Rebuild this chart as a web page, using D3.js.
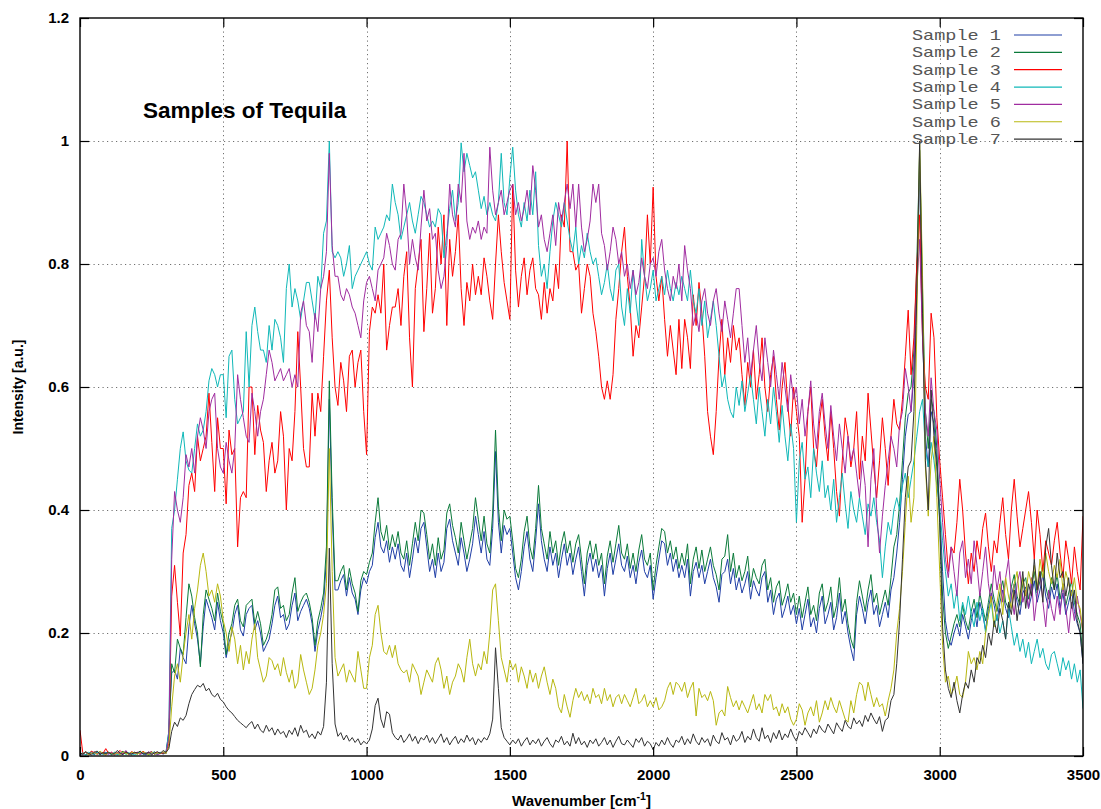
<!DOCTYPE html>
<html><head><meta charset="utf-8">
<script src="https://cdn.jsdelivr.net/npm/d3@7"></script>
<style>body{margin:0;background:#fff}</style>
</head><body><svg id="c" width="1101" height="809"></svg>
<script>
// wavenumber grid (cm^-1), one value every 10 cm^-1
const wavenumbers = d3.range(0, 3501, 10);
const xTickValues = [0, 500, 1000, 1500, 2000, 2500, 3000, 3500];
const xTickLabels = ["0", "500", "1000", "1500", "2000", "2500", "3000", "3500"];
const yTickValues = [0, 0.2, 0.4, 0.6, 0.8, 1.0, 1.2];
const yTickLabels = ["0", "0.2", "0.4", "0.6", "0.8", "1", "1.2"];
const seriesNames = ["Sample 1", "Sample 2", "Sample 3", "Sample 4", "Sample 5", "Sample 6", "Sample 7"];
const seriesColors = ["#1f3ea6", "#0a7a3a", "#ff0000", "#10b8b8", "#a02ca0", "#b8b810", "#333333"];

// intensities in thousandths (a.u. x 1000)
const sample1 = [
4,2,6,3,5,2,7,3,4,6,
3,5,2,6,4,3,7,2,5,4,
6,3,4,2,5,7,3,4,6,3,
6,40,135,140,125,175,160,150,210,245,
215,190,150,210,255,240,225,205,250,220,
200,160,185,200,230,245,205,195,230,240,
245,205,220,200,170,180,190,215,245,260,
225,230,205,215,245,265,220,235,245,255,
240,215,170,205,225,250,320,580,400,270,
270,285,295,260,290,265,255,230,270,290,
280,300,310,355,380,340,330,350,315,340,
320,345,310,300,330,290,320,355,330,370,
380,340,300,320,290,330,300,315,370,385,
350,330,310,355,330,300,320,345,390,360,
330,365,320,310,370,495,380,330,375,360,
370,330,290,270,300,340,365,320,300,350,
410,350,320,300,340,310,330,290,320,345,
310,330,295,320,340,300,260,310,330,300,
320,290,310,260,305,330,295,320,345,310,
300,325,290,310,280,315,335,300,290,310,
255,290,320,350,345,310,330,300,320,290,
310,290,320,260,300,315,290,310,280,300,
320,290,275,250,295,300,320,280,305,270,
290,265,280,300,255,285,270,260,290,300,
250,270,230,255,265,225,240,260,230,245,
215,240,205,230,255,210,225,200,240,260,
215,230,250,205,225,265,215,235,200,175,
155,230,260,240,215,250,270,230,245,210,
230,250,225,270,290,330,380,450,520,555,
560,620,760,950,700,520,470,560,540,480,
400,300,220,190,180,200,215,195,230,210,
190,220,240,210,250,230,205,240,265,245,
220,250,270,240,225,260,280,250,230,265,
275,240,260,285,250,270,295,260,240,275,
255,280,240,265,230,250,270,235,215,200,
150];
const sample2 = [
3,5,2,4,7,3,5,2,6,4,
5,2,6,3,4,8,3,5,2,6,
3,6,4,5,2,4,7,3,5,4,
4,35,150,135,190,175,165,225,280,260,
225,200,145,230,270,255,240,220,265,235,
215,165,200,215,245,255,220,210,245,250,
255,215,235,215,180,190,205,230,270,275,
240,245,220,230,265,290,235,250,260,265,
250,225,180,220,240,265,340,610,420,285,
285,300,310,270,305,280,265,235,285,300,
295,315,330,380,420,365,350,375,335,360,
340,365,330,320,350,310,345,380,350,400,
395,360,320,345,310,355,320,335,395,410,
375,355,330,380,350,320,345,370,420,385,
350,390,345,330,395,530,405,350,400,385,
390,350,305,290,320,365,390,340,320,370,
440,370,345,320,365,330,350,310,345,365,
330,350,315,345,360,320,280,330,350,320,
345,310,330,280,325,350,315,345,375,330,
320,345,305,330,300,335,360,320,310,330,
270,310,340,370,365,330,350,320,340,305,
330,310,345,280,320,340,305,335,300,320,
340,310,295,270,320,325,360,300,330,290,
310,285,300,325,275,305,290,280,310,320,
270,290,250,275,285,245,260,280,250,265,
230,260,225,250,275,230,245,220,265,280,
235,250,275,225,245,290,235,255,215,190,
175,250,285,260,235,270,295,250,265,230,
250,270,245,290,340,360,410,480,550,590,
600,660,800,985,760,560,500,580,560,500,
380,260,200,175,195,215,230,210,245,220,
205,235,255,225,265,240,220,250,280,255,
235,265,285,250,240,275,295,260,245,280,
290,255,275,300,265,285,310,275,255,290,
270,295,255,280,245,265,285,250,230,215,
160];
const sample3 = [
42,4,6,3,8,5,3,7,4,12,
4,6,3,5,9,4,6,3,7,5,
6,3,8,4,5,7,3,6,4,5,
5,20,260,310,250,195,330,360,440,460,
430,520,480,500,520,590,510,430,550,500,
500,410,530,490,500,340,420,430,420,600,
600,490,570,530,510,430,480,510,460,480,
560,520,400,500,480,560,690,600,500,470,
470,590,520,590,560,650,740,790,680,600,
570,640,610,560,650,660,600,640,660,560,
490,690,730,720,750,720,800,660,700,730,
730,760,700,780,820,680,600,760,800,840,
690,760,850,720,760,860,800,880,700,840,
780,820,880,760,700,770,740,800,750,780,
750,810,780,740,710,800,880,820,770,740,
710,930,790,730,780,810,750,790,810,760,
750,710,770,720,760,740,800,760,880,860,
1000,820,820,790,800,720,760,800,780,720,
690,650,600,580,610,580,620,710,760,820,
860,780,730,650,700,680,730,780,880,800,
925,780,740,780,710,650,700,660,620,710,
630,710,680,630,750,700,770,720,650,560,
520,490,560,650,710,620,680,640,700,660,
680,620,570,640,600,660,580,620,680,600,
560,620,650,580,530,600,640,570,520,600,
560,520,380,450,560,600,500,470,540,580,
520,480,560,500,430,390,480,550,520,470,
500,560,450,520,480,590,530,470,420,480,
550,500,440,520,580,540,530,580,650,725,
620,680,800,880,680,600,580,720,680,550,
480,420,360,300,340,330,380,450,400,330,
280,330,300,350,320,370,395,340,300,350,
330,380,420,360,320,400,450,390,340,370,
400,430,380,320,400,360,300,350,330,310,
350,380,330,290,350,320,280,340,300,270,
390];
const sample4 = [
3,5,2,6,4,3,5,7,2,4,
6,3,5,2,4,6,3,5,4,2,
4,7,3,5,2,6,4,3,5,6,
4,40,370,400,450,500,527,480,465,460,
500,540,520,530,560,610,630,620,600,620,
620,550,650,660,580,540,550,560,690,600,
700,730,690,660,660,640,700,660,710,700,
680,640,760,800,730,760,740,710,740,770,
770,740,710,780,760,850,870,1000,820,810,
820,810,780,800,830,760,780,790,800,810,
820,800,790,860,840,850,860,880,870,930,
900,880,840,860,880,900,870,850,880,910,
900,880,860,870,860,890,880,810,850,890,
920,870,900,997,950,980,960,940,950,920,
890,910,880,900,880,870,900,980,900,880,
940,990,920,880,860,900,870,920,880,950,
830,780,800,760,820,870,900,880,860,900,
870,840,820,860,800,830,810,850,820,800,
810,780,750,770,800,760,740,790,800,730,
700,760,720,790,740,700,840,780,740,760,
790,740,760,780,750,790,760,740,770,750,
780,760,740,790,740,720,760,700,740,680,
710,740,700,650,600,620,580,560,550,600,
570,610,560,590,620,580,540,600,560,520,
580,540,600,560,510,570,520,480,540,500,
380,480,510,450,470,420,500,460,430,480,
420,440,400,450,380,420,460,410,370,430,
400,380,420,390,360,410,390,420,380,350,
290,340,380,360,400,420,400,440,460,420,
450,480,520,560,580,500,470,510,480,440,
400,350,300,260,280,240,270,220,250,230,
260,230,210,250,220,240,200,230,250,210,
230,200,220,190,240,210,180,200,170,190,
160,185,150,170,190,160,175,150,140,165,
170,150,130,160,140,155,125,150,120,140,
77];
const sample5 = [
5,3,6,2,4,7,3,5,4,2,
4,6,2,5,3,4,9,3,5,4,
5,3,6,4,7,3,5,2,4,6,
4,30,320,430,400,380,420,490,470,500,
460,520,550,530,500,560,580,590,500,470,
460,510,480,460,500,620,580,550,520,510,
590,560,520,560,580,620,660,640,610,620,
630,610,620,630,600,620,600,720,740,700,
690,640,720,690,760,780,820,980,830,780,
780,750,740,760,750,730,720,700,680,740,
770,780,760,740,790,800,810,850,830,800,
790,840,850,930,880,800,840,810,790,860,
920,870,890,840,850,790,760,780,830,930,
880,860,930,900,980,870,840,860,850,870,
840,860,850,990,920,880,900,920,880,900,
920,930,880,900,870,890,920,880,960,920,
860,880,840,820,850,880,830,900,870,900,
930,890,930,860,930,860,820,840,870,930,
900,930,850,830,790,820,860,840,800,820,
780,800,760,790,750,770,810,780,760,800,
810,780,820,840,790,760,740,780,760,800,
740,830,790,760,700,720,690,740,760,720,
700,740,760,720,690,740,710,680,720,760,
760,700,640,680,620,660,700,640,610,680,
640,600,660,620,580,640,600,560,620,580,
600,540,580,520,560,610,540,500,560,590,
540,500,570,520,480,540,500,460,520,480,
500,460,420,480,440,340,450,500,400,330,
390,440,480,520,500,470,540,560,630,600,
560,640,760,840,680,560,520,615,560,530,
450,380,320,290,340,300,260,330,350,290,
320,280,350,310,260,300,340,280,250,310,
270,300,250,290,320,260,230,280,300,250,
270,240,290,220,260,300,250,210,270,240,
220,260,230,280,240,200,250,220,260,230,
200];
const sample6 = [
5,3,7,2,4,6,3,8,4,2,
6,4,3,5,2,7,4,3,6,5,
3,5,7,4,2,6,3,5,4,7,
4,15,80,130,150,120,165,200,230,190,
240,270,310,330,300,260,270,250,280,260,
220,200,170,210,190,150,180,140,170,150,
190,215,160,140,120,130,160,155,140,150,
130,160,136,120,140,110,120,165,140,120,
100,110,140,180,200,230,280,500,300,160,
130,140,150,120,140,130,120,170,140,110,
110,160,180,230,245,200,170,165,180,160,
180,150,140,135,140,120,150,140,130,100,
120,140,130,120,150,160,140,110,130,100,
120,130,150,140,120,160,190,150,130,150,
140,170,150,200,270,280,220,160,140,120,
156,140,150,120,145,130,110,140,120,135,
110,130,145,120,100,125,110,80,70,100,
80,63,90,110,95,105,90,100,85,110,
95,100,85,110,90,100,80,95,100,85,
100,90,80,95,110,85,90,100,80,90,
80,95,75,80,90,110,120,100,120,115,
105,120,95,110,120,65,110,95,100,90,
105,90,50,70,75,65,113,95,80,90,
75,90,80,70,85,100,75,85,70,100,
90,100,75,80,65,85,70,80,60,50,
60,85,75,50,70,80,65,90,55,70,
90,75,95,80,70,90,75,60,55,90,
70,100,120,115,90,120,100,80,95,80,
85,65,90,110,140,200,240,300,380,455,
380,420,700,1000,780,470,390,480,520,420,
300,180,120,130,100,110,130,100,95,120,
170,150,160,140,170,150,200,230,260,210,
250,280,230,290,260,240,280,300,250,290,
260,300,280,310,270,320,290,330,300,280,
310,290,320,270,300,280,260,290,250,240,
200];
const sample7 = [
5,3,7,4,2,6,8,3,5,4,
6,3,4,9,5,2,7,4,3,6,
5,8,3,4,6,2,5,7,4,9,
6,12,40,55,48,62,58,66,85,100,
108,115,112,118,106,110,100,96,102,92,
88,80,74,70,64,58,54,50,46,52,
56,44,52,42,38,50,40,46,34,44,
36,40,30,42,35,46,32,50,38,42,
30,36,28,40,34,48,120,338,150,52,
32,38,26,34,24,30,22,28,18,24,
20,26,44,82,94,60,46,72,68,38,
30,26,34,22,28,36,24,32,20,30,
26,34,22,30,20,28,36,22,30,18,
26,32,20,28,22,34,24,30,18,28,
22,30,26,36,60,176,110,46,30,24,
18,26,20,28,16,24,30,18,26,20,
28,16,24,30,20,14,26,22,32,18,
24,16,37,20,30,18,24,14,26,20,
28,16,22,30,18,26,14,24,32,20,
18,26,20,14,28,22,30,16,24,20,
10,22,16,26,18,30,20,14,26,22,
32,18,28,20,36,24,18,30,22,28,
16,34,24,20,38,26,30,18,34,24,
28,40,22,32,26,44,30,24,46,28,
34,22,38,28,42,26,36,30,44,32,
24,40,34,46,38,30,44,36,50,42,
38,52,44,36,54,46,40,58,48,44,
62,52,58,48,66,56,70,60,52,64,
40,58,62,90,100,150,220,320,420,470,
480,560,750,1000,720,480,400,595,520,470,
380,210,140,110,95,120,90,70,100,120,
110,140,120,160,150,180,160,200,180,220,
200,240,220,190,250,230,270,220,260,300,
240,280,260,320,270,300,250,340,370,310,
270,330,290,300,260,290,240,270,220,200,
150];

const allSamples = [sample1, sample2, sample3, sample4, sample5, sample6, sample7];
allSamples.forEach((s, i) => { if (s.length !== wavenumbers.length) console.error("length mismatch", i + 1, s.length); });

const M = { l: 80, r: 1083, t: 18, b: 756 };
const svg = d3.select("#c");
svg.append("rect").attr("width", 1101).attr("height", 809).attr("fill", "#fff");

const x = d3.scaleLinear().domain([0, 3500]).range([M.l, M.r]);
const y = d3.scaleLinear().domain([0, 1.2]).range([M.b, M.t]);

// grid
const grid = svg.append("g").attr("stroke", "#707070").attr("stroke-width", 1).attr("stroke-dasharray", "1.2,3.3");
grid.selectAll("line.gx").data(xTickValues.filter(d => d > 0 && d < 3500)).join("line")
  .attr("x1", d => Math.round(x(d)) + 0.5).attr("x2", d => Math.round(x(d)) + 0.5)
  .attr("y1", M.t).attr("y2", M.b);
grid.selectAll("line.gy").data(yTickValues.filter(d => d > 0 && d < 1.2)).join("line")
  .attr("y1", d => Math.round(y(d)) + 0.5).attr("y2", d => Math.round(y(d)) + 0.5)
  .attr("x1", M.l).attr("x2", M.r);

// clip
svg.append("clipPath").attr("id", "pc").append("rect")
  .attr("x", M.l).attr("y", M.t).attr("width", M.r - M.l).attr("height", M.b - M.t);

const line = d3.line().x((d, i) => x(wavenumbers[i])).y(d => y(d / 1000));
const plot = svg.append("g").attr("clip-path", "url(#pc)");
allSamples.forEach((s, i) => {
  plot.append("path").datum(s).attr("d", line).attr("fill", "none")
    .attr("stroke", seriesColors[i]).attr("stroke-width", 1).attr("stroke-linejoin", "round");
});

// axes (inward ticks, mirrored)
const tickFont = "bold 15px 'Liberation Sans', Arial, Helvetica, sans-serif";
function styleAxis(g) {
  g.select(".domain").remove();
  g.selectAll(".tick line").attr("stroke", "#000").attr("stroke-width", 1.2);
  g.selectAll(".tick text").style("font", tickFont).attr("fill", "#000");
}
svg.append("g").attr("transform", `translate(${M.l},0)`)
  .call(d3.axisLeft(y).tickValues(yTickValues).tickSize(-9).tickPadding(11).tickFormat((d, i) => yTickLabels[i]))
  .call(styleAxis);
svg.append("g").attr("transform", `translate(${M.r},0)`)
  .call(d3.axisRight(y).tickValues(yTickValues).tickSize(-9).tickFormat(""))
  .call(styleAxis);
svg.append("g").attr("transform", `translate(0,${M.b})`)
  .call(d3.axisBottom(x).tickValues(xTickValues).tickSize(-9).tickPadding(13).tickFormat((d, i) => xTickLabels[i]))
  .call(styleAxis);
svg.append("g").attr("transform", `translate(0,${M.t})`)
  .call(d3.axisTop(x).tickValues(xTickValues).tickSize(-9).tickFormat(""))
  .call(styleAxis);

// frame
svg.append("rect").attr("x", M.l).attr("y", M.t).attr("width", M.r - M.l).attr("height", M.b - M.t)
  .attr("fill", "none").attr("stroke", "#000").attr("stroke-width", 1.4);

// axis labels
const xl = svg.append("text").attr("x", (M.l + M.r) / 2).attr("y", 806).attr("text-anchor", "middle")
  .style("font", tickFont).attr("fill", "#000");
xl.append("tspan").text("Wavenumber [cm");
xl.append("tspan").text("-1").attr("font-size", "10.5px").attr("dy", "-6");
xl.append("tspan").text("]").attr("dy", "6");

svg.append("text").attr("transform", `translate(23,${(M.t + M.b) / 2}) rotate(-90)`)
  .attr("text-anchor", "middle").style("font", "bold 14px 'Liberation Sans', Arial, sans-serif")
  .attr("fill", "#000").text("Intensity [a.u.]");

// title
svg.append("text").attr("x", 143).attr("y", 118)
  .style("font", "bold 22.5px 'Liberation Sans', Arial, sans-serif").attr("fill", "#000")
  .text("Samples of Tequila");

// legend
const leg = svg.append("g");
seriesNames.forEach((name, i) => {
  const ly = 34.5 + i * 17.35;
  leg.append("text").attr("x", 912).attr("y", ly).attr("dy", "0.36em")
    .attr("textLength", 89).attr("lengthAdjust", "spacingAndGlyphs")
    .style("font", "15px 'Liberation Mono', 'Courier New', monospace").attr("fill", "#555").text(name);
  leg.append("line").attr("x1", 1014).attr("x2", 1062).attr("y1", ly + 0.5).attr("y2", ly + 0.5)
    .attr("stroke", seriesColors[i]).attr("stroke-width", 1.2);
});
</script>
</body></html>
